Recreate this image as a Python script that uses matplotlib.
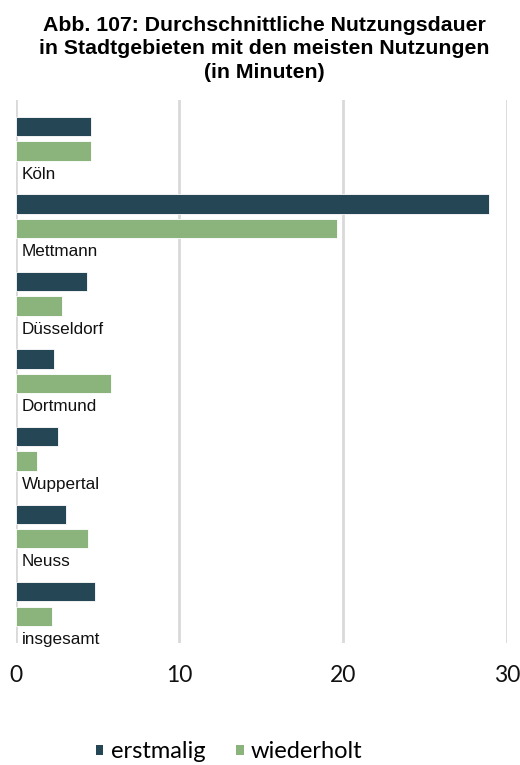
import matplotlib
matplotlib.use("Agg")
import matplotlib.pyplot as plt
from matplotlib.patches import Patch

# Durchschnittliche Nutzungsdauer in Minuten
regions = ["Köln", "Mettmann", "Düsseldorf", "Dortmund", "Wuppertal", "Neuss", "insgesamt"]
erstmalig = [4.6, 28.9, 4.35, 2.33, 2.58, 3.08, 4.83]
wiederholt = [4.62, 19.65, 2.84, 5.85, 1.31, 4.45, 2.23]
x_ticks = [0, 10, 20, 30]
series_names = ["erstmalig", "wiederholt"]

DARK = "#244655"
GREEN = "#8bb47d"
GRID = "#d9d9d9"

W, H = 520, 765
fig = plt.figure(figsize=(W / 100, H / 100), dpi=100)

# axes in pixel terms: x 15.5..507, y 100..643
ax = fig.add_axes([15.5 / W, 1 - 643 / H, (507 - 15.5) / W, (643 - 100) / H])
ax.set_xlim(0, 30)
ax.set_ylim(len(regions), 0)

bar_h = 0.25
for i, (e, w) in enumerate(zip(erstmalig, wiederholt)):
    ax.barh(i + 0.34, e, height=bar_h, color=DARK, edgecolor="white", linewidth=0.6, zorder=3)
    ax.barh(i + 0.655, w, height=bar_h, color=GREEN, edgecolor="white", linewidth=0.6, zorder=3)
    ax.text(0.4, i + 0.955, regions[i], ha="left", va="center",
            fontsize=12.3, family="Liberation Sans", color="#111111", zorder=4)

ax.set_xticks(x_ticks)
ax.set_xticklabels([str(t) for t in x_ticks], fontsize=16.5, family="Lato")
ax.tick_params(axis="x", length=0, pad=16, colors="#111111")
ax.set_yticks([])
for s in ax.spines.values():
    s.set_visible(False)
for t in x_ticks:
    ax.axvline(t, color=GRID, lw=2, zorder=1)

fig.text(264 / W, 1 - 49 / H,
         "Abb. 107: Durchschnittliche Nutzungsdauer\nin Stadtgebieten mit den meisten Nutzungen\n(in Minuten)",
         ha="center", va="center", fontsize=15.3, fontweight="bold",
         family="Liberation Sans", linespacing=1.3)

handles = [Patch(facecolor=DARK, edgecolor="none", label=series_names[0]),
           Patch(facecolor=GREEN, edgecolor="none", label=series_names[1])]
fig.legend(handles=handles, loc="center", bbox_to_anchor=(229 / W, 1 - 752 / H),
           ncol=2, frameon=False, prop={"family": "Lato", "size": 17},
           handlelength=0.33, handleheight=0.33, handletextpad=0.3, columnspacing=1.3,
           borderpad=0)

fig.savefig("out.png", dpi=100)
